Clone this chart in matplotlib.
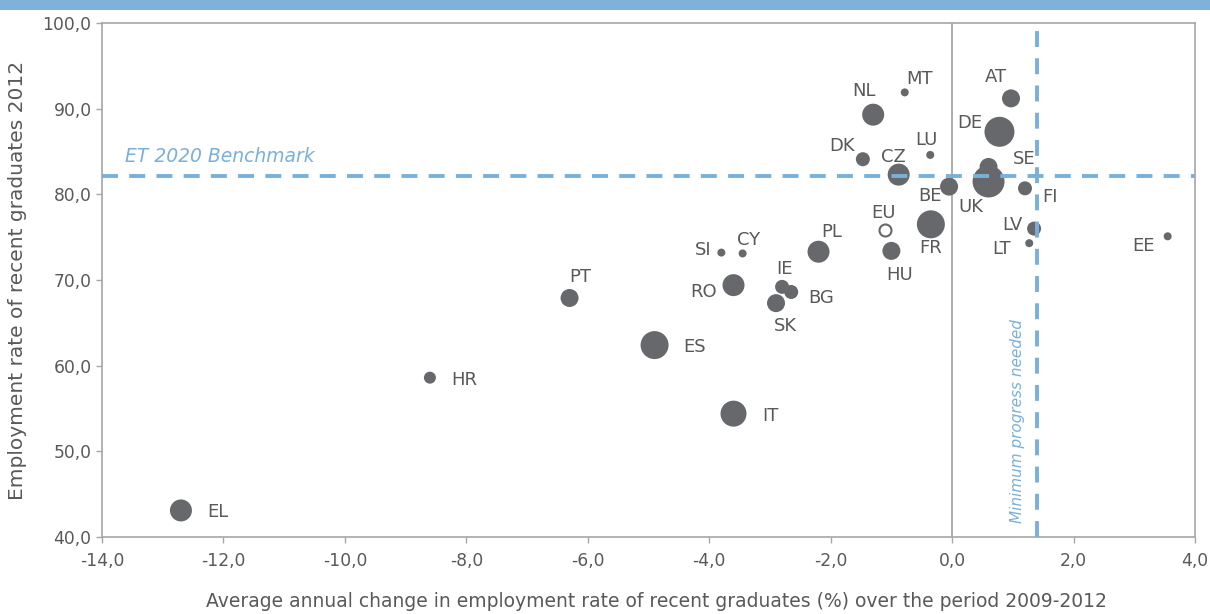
import matplotlib
matplotlib.use("Agg")
import matplotlib.pyplot as plt
from matplotlib.patches import Rectangle

countries = ["EL", "HR", "IT", "ES", "PT", "RO", "SK", "IE", "BG", "SI", "CY", "PL",
             "HU", "FR", "BE", "UK", "SE", "FI", "LV", "LT", "EE", "AT", "DE", "NL",
             "MT", "DK", "LU", "CZ"]
change = [-12.7, -8.6, -3.6, -4.9, -6.3, -3.6, -2.9, -2.8, -2.65, -3.8, -3.45, -2.2,
          -1.0, -0.35, -0.05, 0.6, 0.6, 1.2, 1.35, 1.27, 3.55, 0.97, 0.78, -1.3,
          -0.78, -1.47, -0.36, -0.88]
employment = [43.1, 58.6, 54.4, 62.4, 67.9, 69.4, 67.3, 69.2, 68.6, 73.2, 73.1, 73.3,
              73.4, 76.5, 80.9, 81.5, 83.2, 80.7, 76.0, 74.3, 75.1, 91.2, 87.3, 89.3,
              91.9, 84.1, 84.6, 82.3]
bubble = [11, 6, 13, 14, 9, 11, 9, 7, 7, 4, 4, 11,
          9, 14, 9, 16, 9, 7, 7, 4, 4, 9, 15, 11,
          4, 7, 4, 11]

eu_label = "EU"
eu_change = -1.1
eu_employment = 75.8

benchmark = 82.1
min_progress = 1.4

xticks = [-14, -12, -10, -8, -6, -4, -2, 0, 2, 4]
yticks = [40, 50, 60, 70, 80, 90, 100]

# label offsets in pixels (dx, dy, ha)
label_offsets = {
    "EL": (26, -2, "left"), "HR": (21, -2, "left"), "IT": (29, -2, "left"),
    "ES": (29, -2, "left"), "PT": (11, 21, "center"), "RO": (-17, -7, "right"),
    "SK": (9, -23, "center"), "IE": (2, 18, "center"), "BG": (17, -6, "left"),
    "SI": (-10, 3, "right"), "CY": (6, 13, "center"), "PL": (13, 20, "center"),
    "HU": (8, -24, "center"), "FR": (0, -24, "center"), "BE": (-19, -9, "center"),
    "UK": (-18, -26, "center"), "SE": (36, 8, "center"), "FI": (25, -9, "center"),
    "LV": (-22, 4, "center"), "LT": (-28, -6, "center"), "EE": (-24, -10, "center"),
    "AT": (-15, 21, "center"), "DE": (-30, 9, "center"), "NL": (-9, 24, "center"),
    "MT": (15, 13, "center"), "DK": (-21, 13, "center"), "LU": (-4, 15, "center"),
    "CZ": (-5, 18, "center"),
}

grey = "#67686b"
txt = "#595959"
blue = "#78b0dc"
spine = "#a6a6a6"

plt.rcParams["font.family"] = ["DejaVu Sans"]

fig = plt.figure(figsize=(12.1, 6.14), dpi=100)
ax = fig.add_axes([102 / 1210, 1 - 537 / 614, 1093 / 1210, 514 / 614])

# top blue band
fig.patches.append(Rectangle((0, 1 - 10 / 614), 1, 10 / 614, transform=fig.transFigure,
                             facecolor="#7eb2d9", edgecolor="none", zorder=0))

ax.set_xlim(-14, 4)
ax.set_ylim(40, 100)

dash = (0, (4.1, 2.9))
ax.axvline(0, color=spine, lw=1.3, zorder=1)
ax.axhline(benchmark, color=blue, lw=2.8, ls=dash, zorder=3)
ax.axvline(min_progress, color=blue, lw=2.8, ls=dash, zorder=3)

sizes = [(1.44 * r) ** 2 for r in bubble]
ax.scatter(change, employment, s=sizes, color=grey, edgecolors="none", zorder=2)
ax.scatter([eu_change], [eu_employment], s=(1.44 * 6) ** 2, facecolor="white",
           edgecolor=grey, linewidths=1.5, zorder=2)

lab_fs = 13
for c, x, y in zip(countries, change, employment):
    dx, dy, ha = label_offsets[c]
    ax.annotate(c, (x, y), xytext=(dx * 0.72, dy * 0.72), textcoords="offset points",
                ha=ha, va="center", fontsize=lab_fs, color=txt, zorder=4)
ax.annotate(eu_label, (eu_change, eu_employment), xytext=(-2 * 0.72, 17 * 0.72),
            textcoords="offset points", ha="center", va="center", fontsize=lab_fs,
            color=txt, zorder=4)

ax.text(-13.62, benchmark + 2.3, "ET 2020 Benchmark", style="italic", color=blue,
        fontsize=13.5, ha="left", va="center")
ax.text(min_progress - 0.33, 53.5, "Minimum progress needed", style="italic", color=blue,
        fontsize=11, rotation=90, ha="center", va="center")

ax.set_xticks(xticks)
ax.set_xticklabels([f"{v:.1f}".replace(".", ",") for v in xticks])
ax.set_yticks(yticks)
ax.set_yticklabels([f"{v:.1f}".replace(".", ",") for v in yticks])
ax.tick_params(axis="both", colors=spine, labelcolor=txt, labelsize=12.3, length=4, width=1)
ax.tick_params(axis="x", pad=7)
for s in ax.spines.values():
    s.set_color(spine)
    s.set_linewidth(1.2)

ax.set_xlabel("Average annual change in employment rate of recent graduates (%) over the period 2009-2012",
              fontsize=13.5, color=txt)
ax.set_ylabel("Employment rate of recent graduates 2012", fontsize=14.5, color=txt)
ax.xaxis.set_label_coords(0.5075, -0.126)
ax.yaxis.set_label_coords(-0.077, 0.5)
ax.xaxis.label.set_va("center")
ax.yaxis.label.set_va("center")

fig.savefig("out.png", dpi=100)
